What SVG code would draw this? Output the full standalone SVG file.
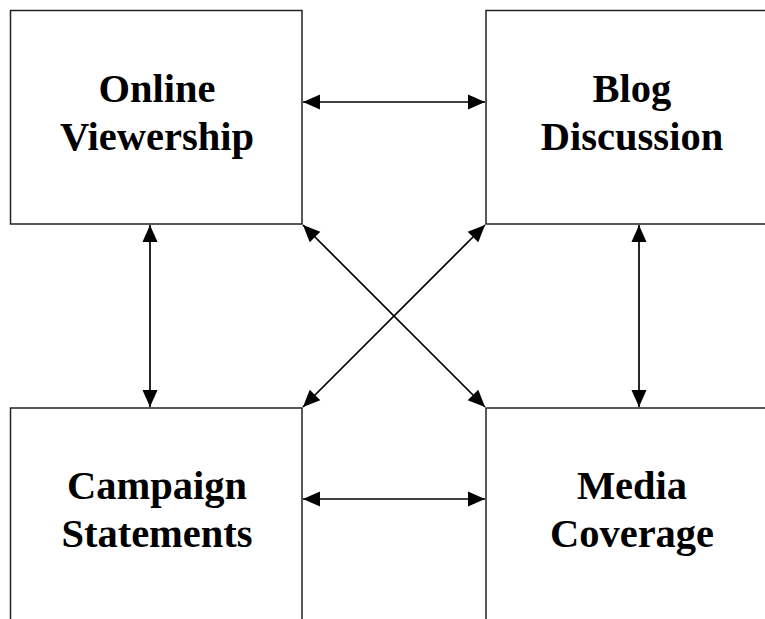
<svg xmlns="http://www.w3.org/2000/svg" width="765" height="619" viewBox="0 0 765 619">
<style>
.box{fill:#fff;stroke:#222;stroke-width:1.5}
.lbl{font-family:"Liberation Serif","Times New Roman",serif;font-weight:bold;font-size:40.5px;text-anchor:middle;fill:#000}
.con{stroke:#000;stroke-width:1.7;fill:none;marker-start:url(#ah);marker-end:url(#ah)}
</style>
<defs>
<marker id="ah" markerUnits="userSpaceOnUse" markerWidth="17" markerHeight="16" refX="17" refY="8" orient="auto-start-reverse" viewBox="0 0 17 16">
<path d="M0,0.5 L17,8 L0,15.5 Z" fill="#000"/>
</marker>
</defs>
<g id="online-viewership">
<rect class="box" x="10.5" y="10.5" width="291.5" height="213.5"/>
<text class="lbl" x="157" y="102">Online</text>
<text class="lbl" x="157" y="150">Viewership</text>
</g>
<g id="blog-discussion">
<rect class="box" x="486" y="10.5" width="300" height="213.5"/>
<text class="lbl" x="632" y="102">Blog</text>
<text class="lbl" x="632" y="150">Discussion</text>
</g>
<g id="campaign-statements">
<rect class="box" x="10.5" y="408" width="291.5" height="230"/>
<text class="lbl" x="157" y="499">Campaign</text>
<text class="lbl" x="157" y="547">Statements</text>
</g>
<g id="media-coverage">
<rect class="box" x="486" y="408" width="300" height="230"/>
<text class="lbl" x="632" y="499">Media</text>
<text class="lbl" x="632" y="547">Coverage</text>
</g>
<g id="connectors">
<line class="con" x1="303" y1="102" x2="485" y2="102"/>
<line class="con" x1="303" y1="499" x2="485" y2="499"/>
<line class="con" x1="150" y1="225" x2="150" y2="407"/>
<line class="con" x1="639" y1="225" x2="639" y2="407"/>
<line class="con" x1="303" y1="225" x2="485" y2="407"/>
<line class="con" x1="485" y1="225" x2="303" y2="407"/>
</g>
</svg>
